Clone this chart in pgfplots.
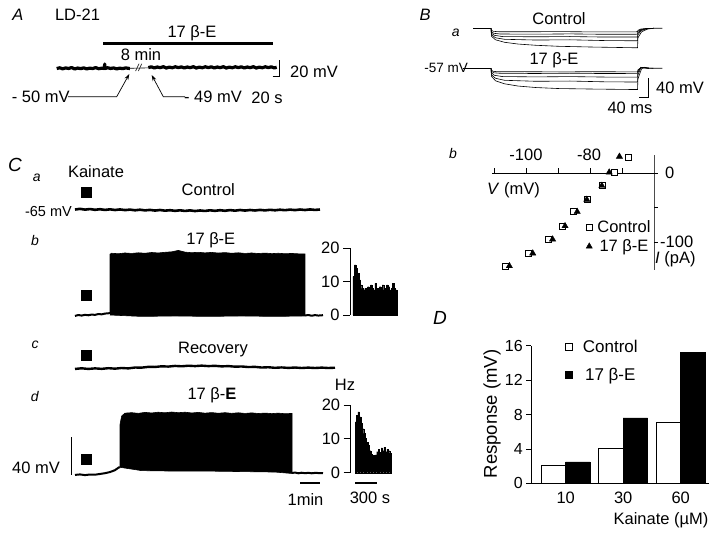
\documentclass[border=0pt]{standalone}
\usepackage{pgfplots}
\pgfplotsset{compat=1.18}
\usetikzlibrary{arrows.meta}
\usepackage{fontspec}
\setmainfont{Liberation Sans}
\newcommand{\fs}[1]{\fontsize{#1}{#1}\selectfont}
\begin{document}
\begin{tikzpicture}[font=\fs{16.5}]
\pgfplotsset{
  /pgf/number format/assume math mode=true,
  trace/.style={scale only axis, axis lines=none, clip=false, anchor=north west},
  hist/.style={scale only axis, anchor=north west, clip=false,
    axis x line=none, axis y line=left, axis line style={-, line width=0.8pt},
    xtick=\empty, ytick={0,10,20}, tick align=outside, major tick length=7pt,
    tick style={line width=0.8pt, black}, yticklabel style={font=\fs{16.5}},
    ymin=0, ymax=20},
}
\path[use as bounding box] (0pt,0pt) rectangle (720pt,-537pt);

% ================= Panel A =================
\begin{axis}[trace, at={(56.7pt,-51.3pt)}, width=220pt, height=34pt,
  xmin=0, xmax=550, ymin=-70, ymax=-30]
\addplot[line width=2.6pt] coordinates {(115.75,-20.6) (540.75,-20.6)};
\addplot[line width=3.2pt, line join=round] coordinates {
(0,-50.3)(7.5,-49.4)(15,-50.6)(22.5,-49.6)(30,-50.2)(37.5,-49.1)(45,-50.8)(52.5,-49.7)
(60,-50.4)(67.5,-49.5)(75,-50.7)(82.5,-49.8)(90,-50.3)(97.5,-49.2)(105,-50.5)(112.5,-49.9)
(119,-50.2)(120,-45)(121,-50.2)(127.5,-49.4)(135,-50.2)(142.5,-49.6)(150,-50.7)(157.5,-49.8)
(165,-50.4)(172.5,-49.5)(180,-50.1)(183,-50.2)};
\addplot[line width=0.6pt] coordinates {(183,-50) (229,-49.5)};
\addplot[line width=3.2pt, line join=round] coordinates {
(229,-49.2)(236.5,-48.3)(244,-49.6)(251.5,-48.5)(259,-49.3)(266.5,-48.1)(274,-49.7)(281.5,-48.6)
(289,-49.4)(296.5,-48.2)(304,-49.2)(311.5,-48.4)(319,-49.6)(326.5,-48.5)(334,-49.3)(341.5,-48.1)
(349,-49.7)(356.5,-48.6)(364,-49.4)(371.5,-48.2)(379,-49.2)(386.5,-48.3)(394,-49.6)(401.5,-48.5)
(409,-49.3)(416.5,-48.1)(424,-49.7)(431.5,-48.6)(439,-49.4)(446.5,-48.2)(454,-49.2)(461.5,-48.3)
(469,-49.6)(476.5,-48.5)(484,-49.3)(491.5,-48.1)(499,-49.7)(506.5,-48.6)(514,-49.4)(521.5,-48.2)
(529,-49.2)(536.5,-48.3)(544,-49.6)(550,-48.8)};
\addplot[line width=1pt] coordinates {(540,-60) (555.8,-60) (555.8,-40)};
\end{axis}
\node at (18pt,-15pt) {\textit{A}};
\node at (77.5pt,-15pt) {LD-21};
\node at (192pt,-33pt) {17 β-E};
\node at (141pt,-54.5pt) {8 min};
\node at (139pt,-68pt) {\fs{10}\textit{//}};
\node at (314pt,-71.7pt) {20 mV};
\node at (267pt,-98.3pt) {20 s};
\node at (40.7pt,-96.7pt) {- 50 mV};
\node at (213pt,-96.7pt) {- 49 mV};
\draw[line width=0.7pt, -{Stealth[length=6pt,width=4pt]}] (68pt,-96.7pt) -- (116.7pt,-96.7pt) -- (129.3pt,-74pt);
\draw[line width=0.7pt, -{Stealth[length=6pt,width=4pt]}] (185pt,-96.7pt) -- (163.3pt,-96.7pt) -- (151.7pt,-75pt);

% ================= Panel B a =================
\begin{axis}[trace, at={(473pt,-24.8pt)}, width=189.3pt, height=25pt,
  xmin=-80, xmax=760, ymin=-100, ymax=-50]
\addplot[line width=1pt] coordinates {(-80,-57) (0,-57)};
\addplot[line width=0.6pt] coordinates {(0,-57)(2,-61)(10,-63)(30,-63.8)(150,-64)(300,-63.6)(450,-64.2)(650,-64)(652,-61)(665,-58.5)(690,-57.3)(720,-57)(760,-57)};
\addplot[line width=0.6pt] coordinates {(0,-57)(2,-64)(12,-67)(40,-68.4)(200,-68.8)(350,-68.2)(500,-69)(650,-68.8)(652,-63)(665,-59.5)(690,-57.5)(720,-57)};
\addplot[line width=0.6pt] coordinates {(0,-57)(2,-67)(15,-71)(50,-73.5)(200,-74)(350,-73.5)(500,-74.5)(650,-74.5)(652,-66)(665,-60.5)(690,-57.8)(720,-57)};
\addplot[line width=0.6pt] coordinates {(0,-57)(2,-70)(20,-76)(60,-79)(200,-80.5)(350,-80)(500,-81.5)(650,-82)(652,-70)(665,-62)(690,-58)(720,-57)};
\addplot[line width=0.6pt] coordinates {(0,-57)(2,-73)(20,-80)(60,-85)(120,-88.5)(200,-91)(300,-93)(450,-94.5)(650,-96)(652,-76)(668,-64)(695,-58.5)(720,-57)};
\end{axis}
\begin{axis}[trace, at={(473pt,-64.8pt)}, width=189.3pt, height=25pt,
  xmin=-80, xmax=760, ymin=-100, ymax=-50]
\addplot[line width=1pt] coordinates {(-124,-57) (0,-57)};
\addplot[line width=0.6pt] coordinates {(0,-57)(2,-61)(10,-63)(30,-64)(150,-63.8)(300,-64.2)(450,-63.8)(650,-64.2)(652,-60)(665,-56)(680,-56.5)(700,-57)(760,-57)};
\addplot[line width=0.6pt] coordinates {(0,-57)(2,-63)(12,-66)(40,-67)(200,-67.4)(350,-66.8)(500,-67.5)(650,-67.2)(652,-62)(665,-55.5)(680,-56)(700,-57)};
\addplot[line width=0.6pt] coordinates {(0,-57)(2,-66)(15,-71)(50,-73.5)(200,-74.2)(350,-73.6)(500,-74.5)(650,-74.8)(652,-65)(665,-55)(680,-55.8)(700,-57)};
\addplot[line width=0.6pt] coordinates {(0,-57)(2,-70)(20,-77)(60,-81)(200,-83)(350,-82.5)(500,-84)(650,-84.5)(652,-70)(665,-56)(680,-55.5)(700,-57)};
\addplot[line width=0.6pt] coordinates {(0,-57)(2,-73)(20,-82)(60,-88)(120,-92.5)(200,-95.5)(300,-97.5)(450,-98.5)(650,-99.5)(652,-78)(668,-58)(680,-55)(700,-56.5)(720,-57)};
\addplot[line width=1pt] coordinates {(656.6,-116.4) (696.6,-116.4) (696.6,-76.4)};
\end{axis}
\node at (425pt,-15pt) {\textit{B}};
\node at (455.7pt,-33pt) {\fs{14}\textit{a}};
\node at (559pt,-18.3pt) {Control};
\node[anchor=east, inner sep=1pt] at (469pt,-68pt) {\fs{13.5}-57 mV};
\node at (554pt,-60pt) {17 β-E};
\node at (680pt,-88pt) {40 mV};
\node at (630pt,-108pt) {40 ms};

% ================= Panel B b (I-V) =================
\begin{axis}[scale only axis, at={(490.8pt,-149.3pt)}, anchor=north west,
  width=163.2pt, height=123.6pt, xmin=-111, xmax=-60, ymin=-145, ymax=35,
  axis lines=none, clip=false,
  legend style={at={(0.583,0.444)}, anchor=north west, draw=none, fill=none,
    font=\fs{16.5}, row sep=2pt, inner sep=0pt,
    /tikz/every odd column/.append style={column sep=3pt}},
  legend image code/.code={\draw[#1] plot coordinates {(3pt,0pt)};}]
\addplot[only marks, mark=square*, mark size=3pt, mark options={fill=white, draw=black, line width=0.6pt}]
  coordinates {(-106.6,-134.9)(-99.3,-116.4)(-93.0,-96.0)(-88.8,-76.7)(-85.2,-55.9)(-81.0,-38.3)(-76.3,-18.0)(-72.5,1.5)(-68.0,23.3)};
\addlegendentry{Control}
\addplot[only marks, mark=triangle*, mark size=3.6pt, mark options={fill=black, draw=black}]
  coordinates {(-105.2,-134.9)(-97.9,-116.4)(-91.7,-96.0)(-87.8,-76.7)(-84.0,-55.9)(-81.0,-38.3)(-76.3,-18.0)(-74.0,1.5)(-70.8,24.5)};
\addlegendentry{17 β-E}
\draw[line width=0.7pt] (axis cs:-110.5,0) -- (axis cs:-60,0);
\draw[line width=0.7pt] (axis cs:-110,0) -- ++(0pt,5pt);
\draw[line width=0.7pt] (axis cs:-100,0) -- ++(0pt,5pt);
\draw[line width=0.7pt] (axis cs:-90,0) -- ++(0pt,5pt);
\draw[line width=0.7pt] (axis cs:-80,0) -- ++(0pt,5pt);
\draw[line width=0.7pt] (axis cs:-70,0) -- ++(0pt,5pt);
\draw[line width=0.5pt, black!70] (axis cs:-60,26) -- (axis cs:-60,-141);
\draw[line width=0.7pt] (axis cs:-60,0) -- ++(4pt,0pt);
\draw[line width=0.7pt] (axis cs:-60,-50) -- ++(4pt,0pt);
\draw[line width=0.7pt] (axis cs:-60,-100) -- ++(4pt,0pt);
\end{axis}
\node at (453pt,-153pt) {\fs{14}\textit{b}};
\node at (526pt,-155pt) {-100};
\node at (589pt,-155pt) {-80};
\node[anchor=west, inner sep=0pt] at (487pt,-190pt) {\textit{V} (mV)};
\node[anchor=west, inner sep=0pt] at (665pt,-173pt) {0};
\node[anchor=west, inner sep=0pt] at (660pt,-242pt) {-100};
\node[anchor=west, inner sep=0pt] at (655pt,-259pt) {\textit{I} (pA)};

% ================= Panel C traces =================
% a
\begin{axis}[trace, at={(75pt,-138.75pt)}, width=260pt, height=85.5pt,
  xmin=0, xmax=780, ymin=-80, ymax=10]
\addplot[line width=2.6pt, line join=round] coordinates {
(0,-64.5)(15,-63.8)(30,-64.6)(45,-64)(60,-64.8)(75,-64.2)(90,-64.9)(105,-64.3)(120,-65)(135,-64.4)
(150,-65.1)(165,-64.6)(180,-65.3)(195,-64.7)(210,-65.4)(225,-64.9)(240,-65.6)(255,-65)(270,-65.7)(285,-65.2)
(300,-65.9)(315,-65.3)(330,-66)(345,-65.4)(360,-66.1)(375,-65.5)(390,-66)(405,-65.3)(420,-65.9)(435,-65.2)
(450,-65.8)(465,-65.1)(480,-65.7)(495,-65)(510,-65.6)(525,-65)(540,-65.5)(555,-64.9)(570,-65.4)(585,-64.8)
(600,-65.3)(615,-64.7)(630,-65.2)(645,-64.6)(660,-65.1)(675,-64.5)(690,-65)(705,-64.4)(720,-64.9)(735,-64.5)};
\addplot[only marks, mark=square*, mark size=5pt, mark options={fill=black}] coordinates {(35,-46.1)};
\end{axis}
% b
\begin{axis}[trace, at={(75pt,-243.75pt)}, width=260pt, height=85.5pt,
  xmin=0, xmax=780, ymin=-80, ymax=10]
\addplot[line width=2pt, line join=round] coordinates {
(0,-66)(10,-65)(20,-65.6)(30,-64.8)(40,-65.3)(50,-64.5)(60,-64.9)(70,-64)(80,-64.3)(90,-63.5)(100,-63.2)(105,-63)};
\addplot[fill=black, draw=black, line width=0.6pt] coordinates {
(105,-64)(105,-1)(110,0)(130,-0.5)(150,0.3)(170,-0.2)(190,0.5)(210,0)(230,0.8)(250,0.3)(270,1)(290,1.5)
(310,3)(330,1.2)(350,0.6)(370,1)(390,0.4)(410,0.9)(430,0.2)(450,0.7)(470,0)(490,0.5)(510,-0.2)(530,0.3)
(550,-0.3)(570,0.2)(590,-0.4)(610,0)(630,-0.5)(650,-0.2)(670,-0.6)(690,-0.8)
(690,-66)(600,-66.5)(500,-66)(400,-66.5)(300,-66)(200,-66.5)(105,-65)};
\addplot[line width=2pt, line join=round] coordinates {
(690,-65.5)(700,-65)(710,-65.8)(720,-65.1)(730,-65.6)(744,-65.2)};
\addplot[only marks, mark=square*, mark size=5pt, mark options={fill=black}] coordinates {(35,-43.9)};
\end{axis}
% c
\begin{axis}[trace, at={(75pt,-296.75pt)}, width=260pt, height=85.5pt,
  xmin=0, xmax=780, ymin=-80, ymax=10]
\addplot[line width=2.4pt, line join=round] coordinates {
(0,-66)(20,-65.3)(40,-66)(60,-65.4)(80,-65.9)(100,-65.2)(120,-65.7)(140,-65)(160,-65.4)(180,-64.5)
(200,-64.6)(220,-63.8)(240,-63.9)(260,-63.2)(280,-63.5)(300,-62.8)(320,-63.2)(340,-62.6)(360,-63)(380,-62.5)
(400,-63)(420,-62.7)(440,-63.3)(460,-63)(480,-63.6)(500,-63.4)(520,-64)(540,-63.8)(560,-64.5)(580,-64.2)
(600,-64.8)(620,-64.4)(640,-64.9)(660,-64.5)(680,-65)(700,-64.6)(720,-65)(740,-64.6)(760,-65)(780,-64.7)};
\addplot[only marks, mark=square*, mark size=5pt, mark options={fill=black}] coordinates {(35,-51.3)};
\end{axis}
% d
\begin{axis}[trace, at={(75pt,-401.75pt)}, width=260pt, height=85.5pt,
  xmin=0, xmax=780, ymin=-80, ymax=10]
\addplot[line width=2pt, line join=round] coordinates {
(0,-67)(15,-66.5)(30,-67.2)(45,-66.6)(60,-66.8)(75,-66)(90,-65.2)(105,-64)(120,-62)(132,-59)(135,-59)};
\addplot[fill=black, draw=black, line width=0.6pt] coordinates {
(135,-59)(135,-14)(140,-5)(150,-2)(170,-1.5)(190,-2.2)(210,-1.2)(230,-1.8)(250,-1)(270,-1.6)(290,-0.8)
(310,-1.5)(330,-1)(350,-1.8)(370,-1.2)(390,-2)(410,-1.4)(430,-2.1)(450,-1.5)(470,-2.2)(490,-1.6)(510,-2.3)
(530,-1.7)(550,-2.4)(570,-1.9)(590,-2.5)(610,-2)(630,-2.6)(651,-2.3)
(651,-65.5)(600,-64)(500,-63.5)(400,-63)(300,-63)(200,-62.5)(135,-59)};
\addplot[line width=2pt, line join=round] coordinates {
(651,-65)(660,-64.5)(670,-65.3)(680,-64.7)(690,-65.2)(700,-64.8)(710,-65.3)(720,-64.9)(744,-65.2)};
\addplot[only marks, mark=square*, mark size=5pt, mark options={fill=black}] coordinates {(35,-50.3)};
\addplot[line width=1pt] coordinates {(-12,-67.1) (-12,-27.1)};
\addplot[line width=1.4pt] coordinates {(675,-75.5) (735,-75.5)};
\end{axis}

% histograms
\begin{axis}[hist, at={(350pt,-248.3pt)}, width=46.9pt, height=66.7pt, xmin=-40, xmax=600]
\addplot[ybar interval, fill=black, draw=black, line width=0.3pt] coordinates {
(0,11.5)(20,15)(40,14)(60,12.5)(80,10.5)(100,9)(120,8)(140,7.5)(160,8)(180,7.5)
(200,8.5)(220,7.5)(240,9)(260,8)(280,7.5)(300,9.5)(320,8)(340,7.5)(360,8.5)(380,8)
(400,9)(420,7.5)(440,8)(460,9)(480,8.5)(500,7.5)(520,8)(540,9.5)(560,8)(580,7.5)(600,7.5)};
\end{axis}
\begin{axis}[hist, at={(350.7pt,-405pt)}, width=40.4pt, height=67.7pt, xmin=-60, xmax=500]
\addplot[ybar interval, fill=black, draw=black, line width=0.3pt] coordinates {
(0,15)(20,17)(40,18)(60,16.5)(80,14.6)(100,13)(120,11.6)(140,10.1)(160,9)(180,8)
(200,6.5)(220,5.5)(240,5.2)(260,5)(280,5.3)(300,6.2)(320,7)(340,6)(360,7.3)(380,6.5)
(400,7.5)(420,6.2)(440,7)(460,6.5)(480,5.8)(500,5.8)};
\addplot[line width=1.4pt] coordinates {(0,-3.1) (300,-3.1)};
\end{axis}

\node at (15pt,-165pt) {\fs{19}\textit{C}};
\node at (36.7pt,-178.3pt) {\fs{14}\textit{a}};
\node at (96pt,-171.7pt) {Kainate};
\node at (208.3pt,-190pt) {Control};
\node[anchor=east, inner sep=1pt] at (73pt,-211.5pt) {\fs{14.5}-65 mV};
\node at (35pt,-240pt) {\fs{14}\textit{b}};
\node at (210.8pt,-240pt) {17 β-E};
\node at (35pt,-345pt) {\fs{14}\textit{c}};
\node at (213pt,-350pt) {Recovery};
\node at (35pt,-396.7pt) {\fs{14}\textit{d}};
\node at (212pt,-395pt) {17 β-\textbf{E}};
\node at (345pt,-385pt) {Hz};
\node at (36pt,-468.3pt) {40 mV};
\node at (305.5pt,-500pt) {1min};
\node at (370pt,-498.3pt) {300 s};

% ================= Panel D =================
\begin{axis}[scale only axis, at={(531.2pt,-345.7pt)}, anchor=north west,
  width=178.25pt, height=137.6pt, xmin=-0.6, xmax=2.5, ymin=0, ymax=16,
  ybar=0pt, bar width=24.5pt,
  axis x line=bottom, axis y line=left, axis line style={-, line width=0.8pt},
  xtick={0,1,2}, xticklabels={10,30,60}, xtick style={draw=none},
  ytick={0,4,8,12,16}, tick align=outside, major tick length=5pt,
  ytick style={line width=0.8pt, black},
  xticklabel style={font=\fs{16.5}}, yticklabel style={font=\fs{16}},
  legend style={at={(0.19,1.055)}, anchor=north west, draw=none, fill=none,
    font=\fs{17}, row sep=10pt, inner sep=0pt,
    /tikz/every odd column/.append style={column sep=8pt}},
  legend image code/.code={\draw[#1, line width=0.6pt] (0pt,-3.5pt) rectangle (7pt,3.5pt);}]
\addplot[fill=white, draw=black, line width=0.6pt] coordinates {(0,2.05) (1,4.07) (2,7.1)};
\addlegendentry{Control}
\addplot[fill=black, draw=black, line width=0.6pt] coordinates {(0,2.5) (1,7.6) (2,15.2)};
\addlegendentry{17 β-E}
\end{axis}
\node at (440pt,-318pt) {\fs{19}\textit{D}};
\node[rotate=90] at (492pt,-414pt) {\fs{18.5}Response (mV)};
\node at (661pt,-520pt) {Kainate (µM)};
\end{tikzpicture}
\end{document}
